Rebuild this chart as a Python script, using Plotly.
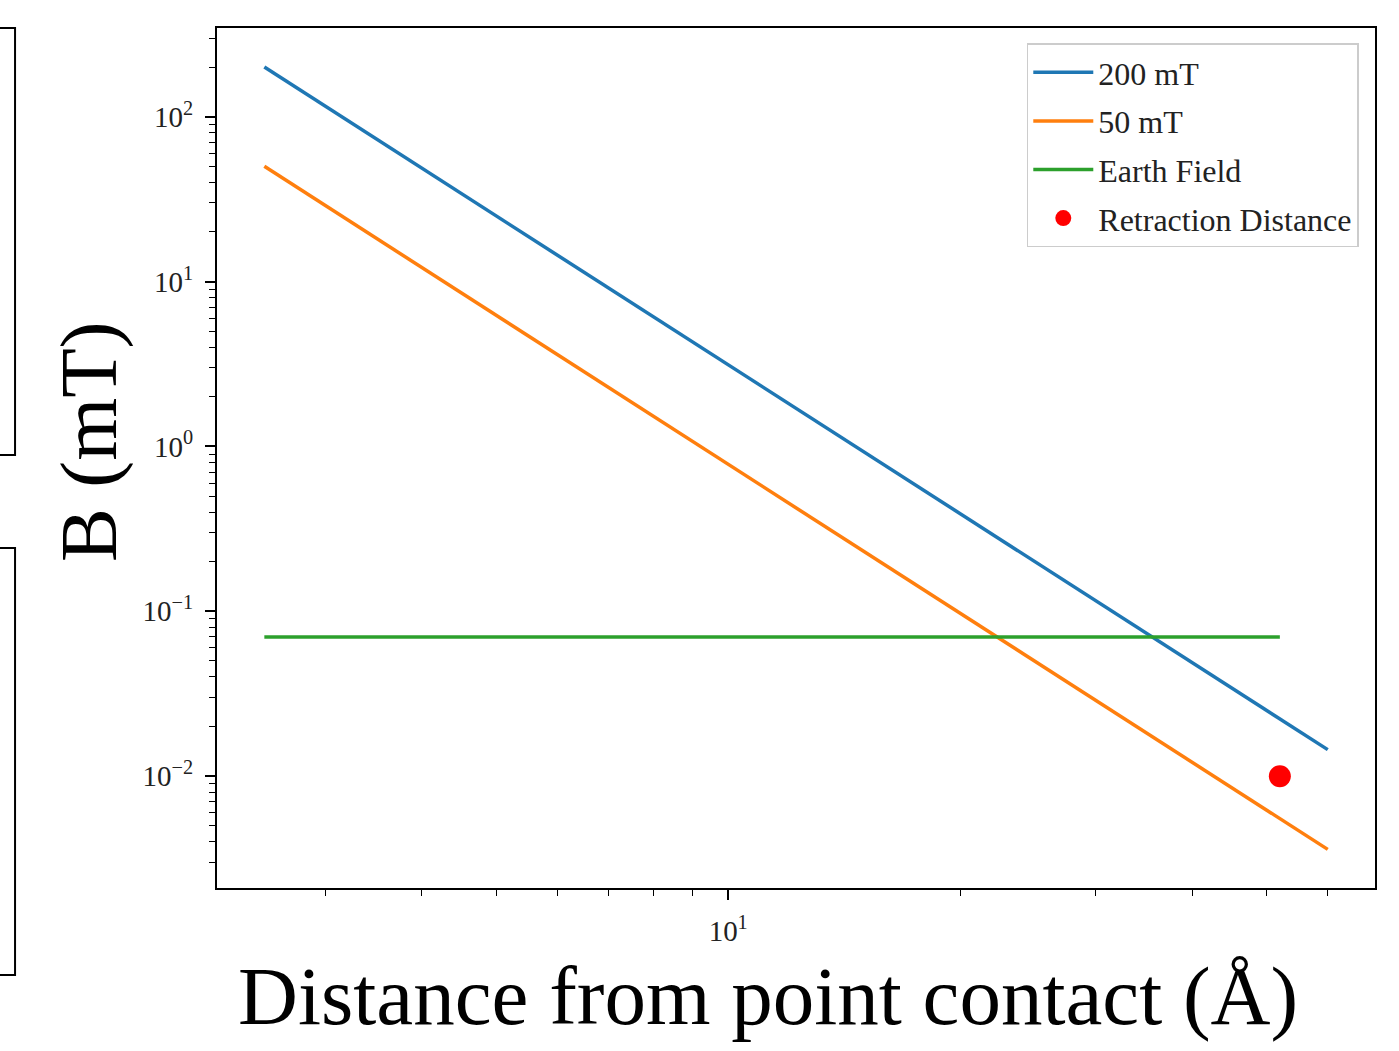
import plotly.graph_objects as go

# data
distance_ends = [2.5, 60]          # Å, start and end of the field curves
field_200 = [200, 0.0145]          # mT
field_50 = [50, 0.0036]            # mT
earth_x = [2.5, 52]
earth_field = [0.07, 0.07]         # mT
retraction_x = [52]
retraction_y = [0.01]

x_major = [10]
x_major_text = ["10<sup>1</sup>"]
x_minor = [3, 4, 5, 6, 7, 8, 9, 20, 30, 40, 50, 60]
y_major = [0.01, 0.1, 1, 10, 100]
y_major_text = ["10<sup>−2</sup>", "10<sup>−1</sup>", "10<sup>0</sup>", "10<sup>1</sup>", "10<sup>2</sup>"]
y_minor = [m * 10.0 ** e for e in range(-3, 3) for m in range(2, 10)]

fig = go.Figure()
fig.add_trace(go.Scatter(x=distance_ends, y=field_200, mode="lines", name="200 mT", legendgroup="a",
                         line=dict(color="#1f77b4", width=3.5)))
fig.add_trace(go.Scatter(x=distance_ends, y=field_50, mode="lines", name="50 mT", legendgroup="b",
                         line=dict(color="#ff7f0e", width=3.5)))
fig.add_trace(go.Scatter(x=earth_x, y=earth_field, mode="lines", name="Earth Field", legendgroup="c",
                         line=dict(color="#2ca02c", width=3.5)))
fig.add_trace(go.Scatter(x=retraction_x, y=retraction_y, mode="markers", name="Retraction Distance",
                         legendgroup="d", marker=dict(color="red", size=22)))

axis_common = dict(
    showgrid=False, zeroline=False, showline=True, linecolor="black", linewidth=2,
    mirror=True, ticks="outside", ticklen=10, tickwidth=1.5, tickcolor="black",
    tickfont=dict(family="Liberation Serif", size=29, color="#222"),
    ticklabelstandoff=6,
)

fig.update_xaxes(type="log", range=[0.3365, 1.8395], tickvals=x_major, ticktext=x_major_text,
                 minor=dict(tickvals=x_minor, ticks="outside", ticklen=6, tickwidth=1.2, tickcolor="black"),
                 **axis_common)
fig.update_yaxes(type="log", range=[-2.678, 2.538], tickvals=y_major, ticktext=y_major_text,
                 minor=dict(tickvals=y_minor, ticks="outside", ticklen=6, tickwidth=1.2, tickcolor="black"),
                 **axis_common)

fig.add_annotation(text="Distance from point contact (Å)", xref="paper", yref="paper",
                   x=0.476, y=-0.07, xanchor="center", yanchor="top", showarrow=False,
                   font=dict(family="Liberation Serif", size=83, color="black"))
fig.add_annotation(text="B (mT)", xref="paper", yref="paper", textangle=-90,
                   x=-0.111, y=0.519, xanchor="center", yanchor="middle", showarrow=False,
                   font=dict(family="Liberation Serif", size=81, color="black"))

# fragments of neighbouring panels at the left edge
for top, bottom in [(1.0, 0.5035), (0.3953, -0.1012)]:
    fig.add_shape(type="path", xref="paper", yref="paper",
                  path=f"M -0.2 {top} L -0.1744 {top} L -0.1744 {bottom} L -0.2 {bottom}",
                  line=dict(color="black", width=2))

fig.update_layout(
    width=1399, height=1051,
    margin=dict(l=217, r=24, t=28, b=163),
    paper_bgcolor="white", plot_bgcolor="white",
    showlegend=True,
    legend=dict(x=0.986, y=0.982, xanchor="right", yanchor="top",
                bordercolor="#cccccc", borderwidth=1.5, bgcolor="white",
                font=dict(family="Liberation Serif", size=32, color="#222"),
                itemwidth=60, tracegroupgap=4, entrywidth=330, entrywidthmode="pixels"),
)

fig.write_html("out.html", config={"displayModeBar": False},
               post_script="document.body.style.margin='0';document.body.style.overflow='hidden';")
